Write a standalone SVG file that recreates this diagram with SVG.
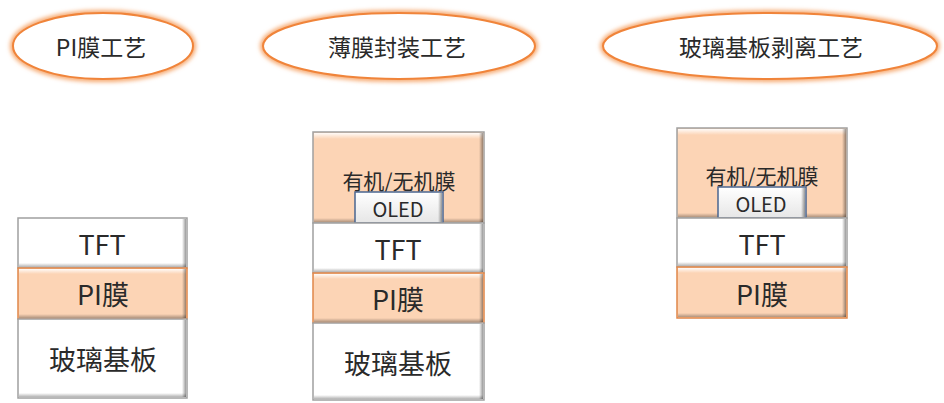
<svg xmlns="http://www.w3.org/2000/svg" width="944" height="403" viewBox="0 0 944 403">
<defs>
<filter id="glow" x="-20%" y="-40%" width="140%" height="180%">
<feGaussianBlur stdDeviation="2.2"/>
</filter>
<linearGradient id="rshade" x1="0" y1="0" x2="1" y2="0">
<stop offset="0" stop-color="#000" stop-opacity="0"/>
<stop offset="1" stop-color="#000" stop-opacity="0.4"/>
</linearGradient>
<linearGradient id="bshade" x1="0" y1="0" x2="0" y2="1">
<stop offset="0" stop-color="#000" stop-opacity="0"/>
<stop offset="1" stop-color="#000" stop-opacity="0.3"/>
</linearGradient>
<linearGradient id="thl" x1="0" y1="0" x2="0" y2="1">
<stop offset="0" stop-color="#fff" stop-opacity="0.9"/>
<stop offset="1" stop-color="#fff" stop-opacity="0"/>
</linearGradient>
<linearGradient id="oledg" x1="0" y1="0" x2="0" y2="1">
<stop offset="0" stop-color="#ffffff"/>
<stop offset="1" stop-color="#e6e6e6"/>
</linearGradient>
</defs>
<style>
text{font-family:"Noto Sans CJK SC","Noto Sans",sans-serif;fill:#2a2a2a;text-anchor:middle;dominant-baseline:central}
.t-ell{font-size:23px}
.t-box{font-size:27px}
.t-org{font-size:21px}
.t-oled{font-size:20px}
.ell{fill:#fff;stroke:#F0843A;stroke-width:2}
.ellg{fill:none;stroke:#F6A86E;stroke-width:6;filter:url(#glow)}
.w{fill:#fff;stroke:#A0A0A0;stroke-width:1.5}
.p{fill:#FCD4B5;stroke:#A0A0A0;stroke-width:1.5}
.pi{fill:#FCD4B5;stroke:#E0874A;stroke-width:1.5}
.oled{fill:url(#oledg);stroke:#4A6590;stroke-width:1.5}
.rs{fill:url(#rshade)}
.bs{fill:url(#bshade)}
.hl{fill:url(#thl)}
</style>

<g id="ellipse-pi">
<ellipse class="ellg" cx="103" cy="46" rx="90" ry="33"/>
<ellipse class="ell" cx="103" cy="46" rx="90" ry="33"/>
<text class="t-ell" x="101" y="46">PI膜工艺</text>
</g>
<g id="ellipse-tfe">
<ellipse class="ellg" cx="399" cy="46" rx="136" ry="33"/>
<ellipse class="ell" cx="399" cy="46" rx="136" ry="33"/>
<text class="t-ell" x="397" y="46">薄膜封装工艺</text>
</g>
<g id="ellipse-llo">
<ellipse class="ellg" cx="770" cy="46" rx="167" ry="33"/>
<ellipse class="ell" cx="770" cy="46" rx="167" ry="33"/>
<text class="t-ell" x="771" y="46">玻璃基板剥离工艺</text>
</g>

<!-- Column 1 -->
<g id="c1-tft">
<rect class="w" x="18" y="218" width="169" height="50"/>
<rect class="hl" x="19" y="219" width="167" height="5"/>
<rect class="rs" x="182" y="219" width="4" height="48"/>
<rect class="bs" x="19" y="263" width="167" height="4"/>
<text class="t-box" x="102" y="243">TFT</text>
</g>
<g id="c1-pi">
<rect class="pi" x="18" y="268" width="169" height="51"/>
<rect class="hl" x="19" y="269" width="167" height="5"/>
<rect class="rs" x="182" y="269" width="4" height="49"/>
<rect class="bs" x="19" y="314" width="167" height="4"/>
<text class="t-box" x="103" y="293">PI膜</text>
</g>
<g id="c1-glass">
<rect class="w" x="18" y="319" width="169" height="79"/>
<rect class="hl" x="19" y="320" width="167" height="5"/>
<rect class="rs" x="182" y="320" width="4" height="77"/>
<rect class="bs" x="19" y="393" width="167" height="4"/>
<text class="t-box" x="103" y="358">玻璃基板</text>
</g>

<!-- Column 2 -->
<g id="c2-encap">
<rect class="p" x="313" y="132" width="171" height="91"/>
<rect class="hl" x="314" y="133" width="169" height="6"/>
<rect class="rs" x="479" y="133" width="4" height="89"/>
<rect class="bs" x="314" y="218" width="169" height="4"/>
<text class="t-org" x="399" y="180">有机/无机膜</text>
</g>
<g id="c2-oled">
<rect class="oled" x="355" y="192" width="88" height="31"/>
<rect class="rs" x="438" y="193" width="4" height="29"/>
<text class="t-oled" x="398" y="208">OLED</text>
</g>
<g id="c2-tft">
<rect class="w" x="313" y="223" width="171" height="50"/>
<rect class="hl" x="314" y="224" width="169" height="5"/>
<rect class="rs" x="479" y="224" width="4" height="48"/>
<rect class="bs" x="314" y="268" width="169" height="4"/>
<text class="t-box" x="398" y="248">TFT</text>
</g>
<g id="c2-pi">
<rect class="pi" x="313" y="273" width="171" height="50"/>
<rect class="hl" x="314" y="274" width="169" height="5"/>
<rect class="rs" x="479" y="274" width="4" height="48"/>
<rect class="bs" x="314" y="318" width="169" height="4"/>
<text class="t-box" x="398" y="298">PI膜</text>
</g>
<g id="c2-glass">
<rect class="w" x="313" y="323" width="171" height="77"/>
<rect class="hl" x="314" y="324" width="169" height="5"/>
<rect class="rs" x="479" y="324" width="4" height="75"/>
<rect class="bs" x="314" y="395" width="169" height="4"/>
<text class="t-box" x="398" y="362">玻璃基板</text>
</g>

<!-- Column 3 -->
<g id="c3-encap">
<rect class="p" x="677" y="128" width="170" height="90"/>
<rect class="hl" x="678" y="129" width="168" height="6"/>
<rect class="rs" x="842" y="129" width="4" height="88"/>
<rect class="bs" x="678" y="213" width="168" height="4"/>
<text class="t-org" x="762" y="175">有机/无机膜</text>
</g>
<g id="c3-oled">
<rect class="oled" x="718" y="187" width="88" height="31"/>
<rect class="rs" x="801" y="188" width="4" height="29"/>
<text class="t-oled" x="761" y="203">OLED</text>
</g>
<g id="c3-tft">
<rect class="w" x="677" y="218" width="170" height="49"/>
<rect class="hl" x="678" y="219" width="168" height="5"/>
<rect class="rs" x="842" y="219" width="4" height="47"/>
<rect class="bs" x="678" y="262" width="168" height="4"/>
<text class="t-box" x="762" y="243">TFT</text>
</g>
<g id="c3-pi">
<rect class="pi" x="677" y="267" width="170" height="51"/>
<rect class="hl" x="678" y="268" width="168" height="5"/>
<rect class="rs" x="842" y="268" width="4" height="49"/>
<rect class="bs" x="678" y="313" width="168" height="4"/>
<text class="t-box" x="762" y="293">PI膜</text>
</g>

<g id="connectors"/>
</svg>
